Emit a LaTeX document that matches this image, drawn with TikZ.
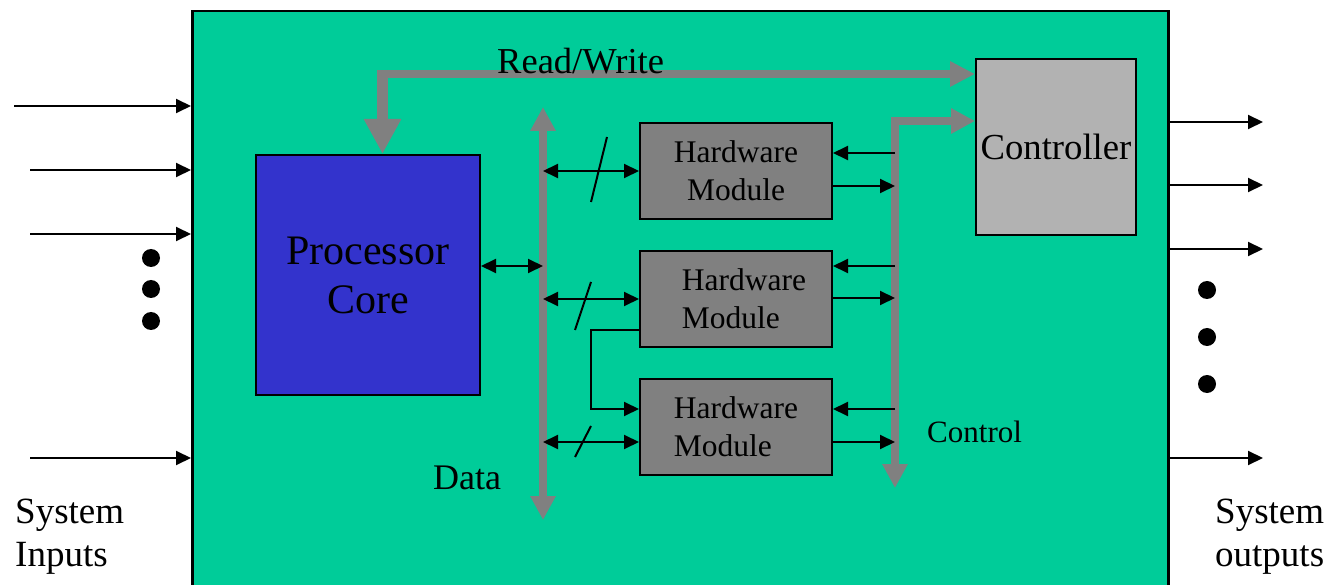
\documentclass[tikz,border=0pt]{standalone}
\usepackage{fontspec}
\setmainfont{Liberation Serif}
\usetikzlibrary{arrows.meta,calc}
\definecolor{boardgreen}{HTML}{00CC99}
\definecolor{corebl}{HTML}{3333CC}
\definecolor{modgray}{HTML}{808080}
\definecolor{ctrlgray}{HTML}{B2B2B2}
\definecolor{busgray}{HTML}{808080}
\begin{document}
\begin{tikzpicture}[x=1pt,y=-1pt,
  sig/.style={line width=2pt,-{Triangle[length=15pt,width=14pt]}},
  sigboth/.style={line width=2pt,{Triangle[length=15pt,width=14pt]}-{Triangle[length=15pt,width=14pt]}},
  busarrow/.style={draw=busgray,line width=8pt,-{Triangle[length=25pt,width=24pt]}},
  busboth/.style={draw=busgray,line width=7.5pt,{Triangle[length=24pt,width=24pt]}-{Triangle[length=24pt,width=24pt]}},
  hwbox/.style={draw,line width=2pt,fill=modgray,minimum width=192pt,minimum height=96pt,
    anchor=north west,inner sep=0pt,font=\fontsize{31.5}{38}\selectfont},
  lab/.style={inner sep=0pt,anchor=base west},
  dot/.style={fill=black}
]
\useasboundingbox (0,0) rectangle (1331,585);
\clip (0,0) rectangle (1331,585);
\fill[white] (0,0) rectangle (1331,585);

% system board
\node[draw,line width=2.5pt,fill=boardgreen,minimum width=976pt,minimum height=600pt,
  anchor=north west,inner sep=0pt] (board) at (191,10) {};

% blocks
\node[draw,line width=2pt,fill=corebl,minimum width=224pt,minimum height=240pt,anchor=north west,
  inner sep=0pt,align=center,font=\fontsize{42}{49}\selectfont] (proc) at (255,154) {Processor\\Core};
\node[draw,line width=2pt,fill=ctrlgray,minimum width=160pt,minimum height=176pt,anchor=north west,
  inner sep=0pt,font=\fontsize{36.7}{44}\selectfont] (ctrl) at (975,58) {Controller};
\node[hwbox,align=center] (m1) at (639,122) {Hardware\\Module};
\node[hwbox,align=left] (m2) at (639,250) {\hspace*{16pt}Hardware\\\hspace*{16pt}Module};
\node[hwbox,align=left] (m3) at (639,378) {Hardware\\Module};

% bus reference points
\coordinate (dtop) at (543,107);
\coordinate (dbot) at (543,520);
\coordinate (cbot) at (895,488);
\coordinate (rwc) at (382.5,70);
\coordinate (lk) at (591,370);

% read/write bus
\draw[busarrow] (377,74) -- (ctrl.west |- 0,74);
\draw[draw=busgray,line width=11.5pt,-{Triangle[length=35pt,width=35pt]}] (rwc) -- (rwc |- proc.north);
\node[lab,font=\fontsize{36.5}{44}\selectfont] (rwlab) at (497,74) {Read/Write};

% data bus
\draw[busboth] (dtop) -- (dbot);
\node[lab,font=\fontsize{36}{44}\selectfont] (datalab) at (433,489) {Data};

% control bus
\draw[busboth] (ctrl.west |- 0,121) -| (cbot);
\node[lab,font=\fontsize{31}{38}\selectfont] (ctllab) at (927,442) {Control};

% processor and modules to the data bus
\draw[sigboth] (proc.east |- 0,266) -- (dtop |- 0,266);
\draw[sigboth] (dtop |- m1.west) -- (m1.west);
\draw[sigboth] (dtop |- m2.west) -- (m2.west);
\draw[sigboth] (dtop |- 0,442) -- (m3.west |- 0,442);
% bus width marks
\draw[line width=2pt] (607,137) -- (591,202);
\draw[line width=2pt] (591,282) -- (575,330);
\draw[line width=2pt] (591,426) -- (575,457);

% module chaining
\draw[sig,-{Triangle[length=15pt,width=14pt]}] (m2.west |- 0,330) -| (lk) |- (m3.west |- 0,409);

% control signals
\draw[sig] (cbot |- 0,153) -- (m1.east |- 0,153);
\draw[sig] (m1.east |- 0,186) -- (cbot |- 0,186);
\draw[sig] (cbot |- 0,266) -- (m2.east |- 0,266);
\draw[sig] (m2.east |- 0,298) -- (cbot |- 0,298);
\draw[sig] (cbot |- 0,409) -- (m3.east |- 0,409);
\draw[sig] (m3.east |- 0,442) -- (cbot |- 0,442);

% system inputs
\coordinate (in1) at (14,106);
\coordinate (in2) at (30,170);
\coordinate (in3) at (30,234);
\coordinate (in4) at (30,458);
\foreach \p in {in1,in2,in3,in4} \draw[sig] (\p) -- (\p -| board.west);
\fill[dot] (151,258) circle[radius=9pt];
\fill[dot] (151,289) circle[radius=9pt];
\fill[dot] (151,321) circle[radius=9pt];
\node[lab,font=\fontsize{37}{44}\selectfont] (sin1) at (15,523) {System};
\node[lab,font=\fontsize{37}{44}\selectfont] (sin2) at (15,566) {Inputs};

% system outputs
\coordinate (out1) at (1263,122);
\coordinate (out2) at (1263,185);
\coordinate (out3) at (1263,249);
\coordinate (out4) at (1263,458);
\foreach \p in {out1,out2,out3,out4} \draw[sig] (\p -| board.east) -- (\p);
\fill[dot] (1207,290) circle[radius=9pt];
\fill[dot] (1207,337) circle[radius=9pt];
\fill[dot] (1207,384) circle[radius=9pt];
\node[lab,font=\fontsize{37}{44}\selectfont] (sout1) at (1215,523) {System};
\node[lab,font=\fontsize{37}{44}\selectfont] (sout2) at (1215,566) {outputs};
\end{tikzpicture}
\end{document}
